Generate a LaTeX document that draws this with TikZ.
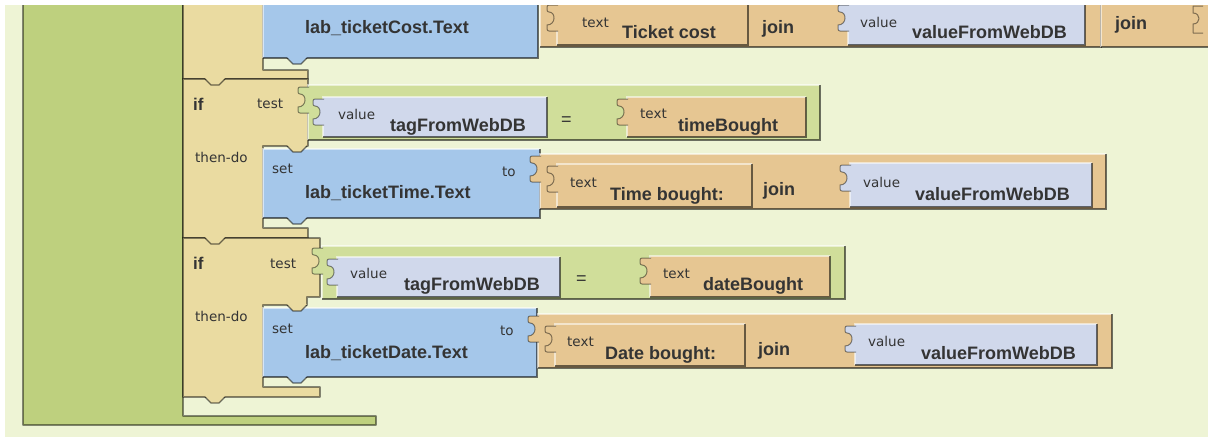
\documentclass[tikz,border=0pt]{standalone}
\usepackage{fontspec}
\usetikzlibrary{positioning}
\newfontfamily\blkfont{Liberation Sans}
\newfontfamily\lblfont{DejaVu Sans}
\definecolor{canvas}{RGB}{238,244,213}
\definecolor{procgreen}{RGB}{190,208,126}
\definecolor{iftan}{RGB}{234,219,161}
\definecolor{setblue}{RGB}{165,199,234}
\definecolor{strorange}{RGB}{230,198,146}
\definecolor{varlav}{RGB}{208,216,235}
\definecolor{cmpgreen}{RGB}{208,222,154}
\definecolor{ink}{RGB}{52,52,52}
\tikzset{
    bname/.style={
    font=\blkfont\bfseries\fontsize{18}{20}\selectfont,text=ink,inner sep=0pt,anchor=base west
    },
    ifkey/.style={
    font=\blkfont\bfseries\fontsize{17}{19}\selectfont,text=ink,inner sep=0pt,anchor=base west
    },
    eqsign/.style={
    font=\blkfont\fontsize{18}{20}\selectfont,text=ink,inner sep=0pt,anchor=base west
    },
    slabel/.style={
    font=\lblfont\fontsize{13.5}{15}\selectfont,text=ink,inner sep=0pt,anchor=base west
    },
    hilite/.style={
    draw=white,draw opacity=0.55,line width=1.5pt
    },
    shade/.style={
    draw=black,draw opacity=0.55,line width=1.8pt
    },
    outline/.style={
    draw=black,draw opacity=0.45,line width=1.4pt,line join=round
    },
}
\newcommand\blockbox[5]{%
  \fill[#1] (#2,#3) rectangle (#4,#5);
  \draw[hilite] (#2,#5) |- (#4,#3);
  \draw[shade] (#2,#5) -| (#4,#3);}
\newcommand\plug[3]{%
  \filldraw[fill=#1,draw=black,draw opacity=0.45,line width=1pt,rounded corners=2pt]
    (#2+1,#3+2) -- (#2-10,#3+2) -- (#2-10,#3+9)
    [sharp corners] .. controls (#2-1,#3+9) and (#2-1,#3+22) .. (#2-10,#3+22)
    [rounded corners=2pt] -- (#2-10,#3+28) -- (#2+1,#3+28);}
\newcommand\nexttab[3]{%
  \fill[#1] (#2,#3-1) -- (#2+6,#3+6) -- (#2+14,#3+6) -- (#2+20,#3-1) -- cycle;
  \draw[shade,line width=1.2pt] (#2,#3) -- (#2+6,#3+6) -- (#2+14,#3+6) -- (#2+20,#3);}

\begin{document}
\begin{tikzpicture}[x=1pt,y=-1pt]
   \useasboundingbox (0,0) rectangle (1208,437);
   \clip (0,0) rectangle (1208,437);
   \fill[white] (0,0) rectangle (1208,437);
   \fill[canvas] (5,5) rectangle (1208,437);

   \filldraw[fill=procgreen,outline] (23,-10) -- (183,-10) -- (183,416) -- (376,416) -- (376,425) -- (23,425) -- cycle;

   \filldraw[fill=iftan,outline] (183,-10) -- (263,-10) -- (263,70) -- (308,70) -- (308,79) -- (183,79) -- cycle;
   \filldraw[fill=iftan,outline] (183,79) -- (308,79) -- (308,146) -- (263,146) -- (263,228) -- (308,228) -- (308,238) -- (183,238) -- cycle;
   \filldraw[fill=iftan,outline] (183,238) -- (320,238) -- (320,297) -- (307,297) -- (307,305) -- (263,305) -- (263,387) -- (320,387) -- (320,397) -- (183,397) -- cycle;

   \blockbox{setblue}{263}{-10}{538}{58}
   \blockbox{strorange}{540}{-10}{1101}{47}
   \blockbox{strorange}{557}{-10}{748}{45}
   \plug{strorange}{557}{3}
   \blockbox{varlav}{848}{-10}{1085}{45}
   \plug{varlav}{848}{3}
   \blockbox{strorange}{1101}{-10}{1230}{47}
   \draw[outline,line width=1pt] (1203,6) -- (1193,6) -- (1193,13) .. controls (1201,13) and (1201,24) .. (1193,24) -- (1193,33) -- (1203,33);

   \blockbox{cmpgreen}{308}{85}{820}{140}
   \plug{cmpgreen}{308}{85}
   \blockbox{varlav}{323}{97}{547}{137}
   \plug{varlav}{323}{97}
   \blockbox{strorange}{627}{97}{806}{137}
   \plug{strorange}{627}{97}
   \blockbox{setblue}{263}{149}{540}{218}
   \blockbox{strorange}{540}{154}{1106}{209}
   \plug{strorange}{540}{154}
   \blockbox{strorange}{557}{164}{752}{207}
   \plug{strorange}{557}{164}
   \blockbox{varlav}{850}{163}{1092}{207}
   \plug{varlav}{850}{163}

   \blockbox{cmpgreen}{322}{246}{845}{299}
   \plug{cmpgreen}{322}{246}
   \blockbox{varlav}{337}{257}{560}{297}
   \plug{varlav}{337}{257}
   \blockbox{strorange}{650}{256}{830}{297}
   \plug{strorange}{650}{256}
   \blockbox{setblue}{263}{308}{537}{377}
   \blockbox{strorange}{538}{314}{1112}{368}
   \plug{strorange}{538}{314}
   \blockbox{strorange}{555}{324}{745}{366}
   \plug{strorange}{555}{324}
   \blockbox{varlav}{855}{324}{1097}{365}
   \plug{varlav}{855}{324}

   \nexttab{setblue}{287}{58}
   \nexttab{iftan}{205}{79}
   \nexttab{iftan}{287}{146}
   \nexttab{setblue}{287}{218}
   \nexttab{iftan}{205}{238}
   \nexttab{iftan}{287}{305}
   \nexttab{setblue}{287}{377}
   \nexttab{iftan}{205}{397}

   \node[bname] (costname) at (305,33) {lab\_ticketCost.Text};
   \node[slabel] (costtxtkey) at (582,27) {text};
   \node[bname] (costtxt) at (622,38) {Ticket cost};
   \node[bname] (costjoin) at (762,33) {join};
   \node[slabel] (costvalkey) at (860,27) {value};
   \node[bname] (costval) at (912,38) {valueFromWebDB};
   \node[bname] (nextjoin) at (1115,29) {join};

   \node[ifkey] (iftime) at (193,110) {if};
   \node[slabel] (testtime) at (257,108) {test};
   \node[slabel] (tagtimekey) at (338,119) {value};
   \node[bname] (tagtime) at (390,131) {tagFromWebDB};
   \node[eqsign] (eqtime) at (561,125) {=};
   \node[slabel] (timekey) at (640,118) {text};
   \node[bname] (timetag) at (678,131) {timeBought};
   \node[slabel] (thentime) at (195,162) {then-do};
   \node[slabel] (settime) at (272,173) {set};
   \node[bname] (timename) at (305,198) {lab\_ticketTime.Text};
   \node[slabel] (totime) at (502,176) {to};
   \node[slabel] (timetxtkey) at (570,187) {text};
   \node[bname] (timetxt) at (610,200) {Time bought:};
   \node[bname] (timejoin) at (763,195) {join};
   \node[slabel] (timevalkey) at (863,187) {value};
   \node[bname] (timeval) at (915,200) {valueFromWebDB};

   \node[ifkey] (ifdate) at (193,269) {if};
   \node[slabel] (testdate) at (270,268) {test};
   \node[slabel] (tagdatekey) at (350,278) {value};
   \node[bname] (tagdate) at (404,290) {tagFromWebDB};
   \node[eqsign] (eqdate) at (576,284) {=};
   \node[slabel] (datekey) at (663,278) {text};
   \node[bname] (datetag) at (703,290) {dateBought};
   \node[slabel] (thendate) at (195,321) {then-do};
   \node[slabel] (setdate) at (272,333) {set};
   \node[bname] (datename) at (305,358) {lab\_ticketDate.Text};
   \node[slabel] (todate) at (500,335) {to};
   \node[slabel] (datetxtkey) at (567,346) {text};
   \node[bname] (datetxt) at (605,359) {Date bought:};
   \node[bname] (datejoin) at (758,355) {join};
   \node[slabel] (datevalkey) at (868,346) {value};
   \node[bname] (dateval) at (921,359) {valueFromWebDB};

   \fill[white] (0,0) rectangle (1208,5);
\end{tikzpicture}
\end{document}
